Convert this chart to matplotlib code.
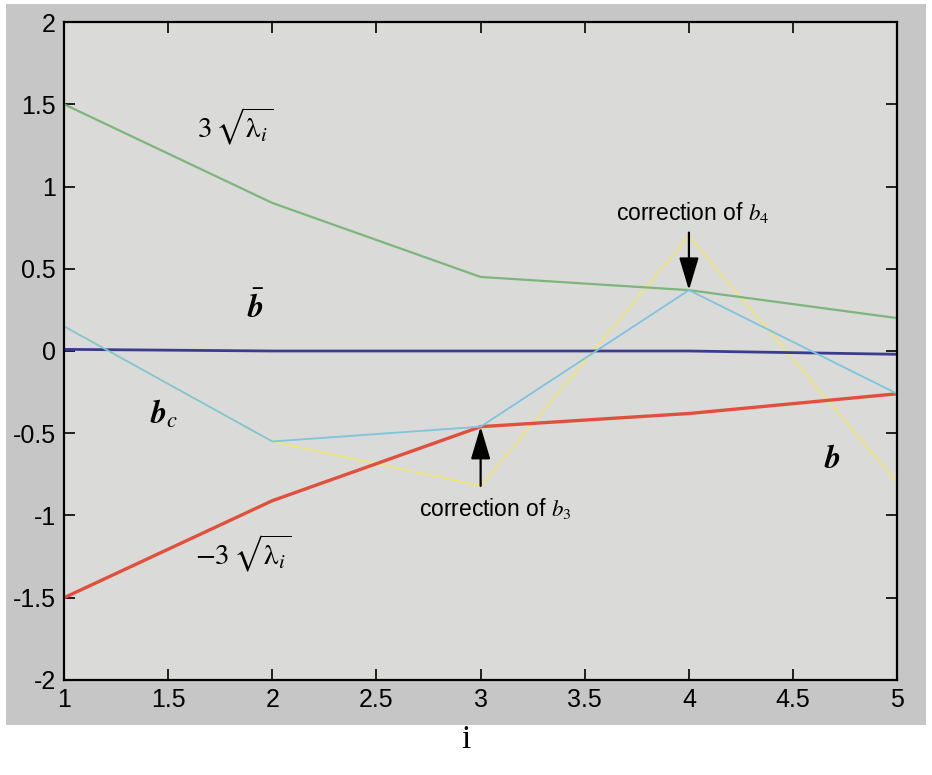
import matplotlib
matplotlib.use("Agg")
import matplotlib.pyplot as plt
from matplotlib.patches import Rectangle

plt.rcParams['mathtext.fontset'] = 'stix'
plt.rcParams['font.family'] = ['Liberation Sans Narrow', 'Liberation Sans', 'DejaVu Sans']

i_vals = [1, 2, 3, 4, 5]
upper = [1.5, 0.9, 0.45, 0.37, 0.2]          # 3*sqrt(lambda_i)
lower = [-1.5, -0.91, -0.46, -0.38, -0.26]   # -3*sqrt(lambda_i)
b_mean = [0.01, 0.0, 0.0, 0.0, -0.02]
b_orig = [0.15, -0.55, -0.82, 0.70, -0.80]
b_corr = [0.15, -0.55, -0.46, 0.37, -0.26]

xticks = [1, 1.5, 2, 2.5, 3, 3.5, 4, 4.5, 5]
yticks = [-2, -1.5, -1, -0.5, 0, 0.5, 1, 1.5, 2]

fig = plt.figure(figsize=(9.32, 7.75), dpi=100, facecolor='white')
# grey panel behind the axes
fig.patches.append(Rectangle((0.006, 0.065), 0.988, 0.93, transform=fig.transFigure,
                             facecolor='#c6c6c6', edgecolor='none', zorder=0))
ax = fig.add_axes([0.0687, 0.1226, 0.894, 0.849])
ax.set_zorder(2)
ax.set_facecolor('#dadad8')

ax.plot(i_vals, b_orig, color='#ede67e', lw=1.3)
ax.plot(i_vals, upper, color='#7db57d', lw=1.6)
ax.plot(i_vals, lower, color='#e0503c', lw=2.4)
ax.plot(i_vals, b_mean, color='#3c3c8e', lw=2.0)
ax.plot(i_vals, b_corr, color='#80c4dc', lw=1.3)

ax.set_xlim(1, 5)
ax.set_ylim(-2, 2)
ax.set_xticks(xticks)
ax.set_yticks(yticks)
ax.set_xticklabels([f'{v:g}' for v in xticks])
ax.set_yticklabels([f'{v:g}' for v in yticks])
ax.tick_params(direction='in', length=8, width=1.2, top=True, right=True,
               labelsize=18, pad=6)
for s in ax.spines.values():
    s.set_linewidth(1.6)

arrow = dict(arrowstyle='-|>,head_length=2.0,head_width=0.6', color='black', lw=1.6,
             shrinkA=0, shrinkB=0)
ax.annotate('', xy=(4, b_corr[3]), xytext=(4, 0.72), arrowprops=arrow)
ax.annotate('', xy=(3, b_corr[2]), xytext=(3, -0.82), arrowprops=arrow)
ax.text(4.02, 0.84, r'correction of $b_4$', fontsize=16.5, ha='center', va='center',
        family='Liberation Sans')
ax.text(3.07, -0.96, r'correction of $b_3$', fontsize=16.5, ha='center', va='center',
        family='Liberation Sans')

ax.text(1.64, 1.37, r'$3\,\sqrt{\mathrm{\lambda}_i}$', fontsize=21, ha='left', va='center')
ax.text(1.63, -1.23, r'$-3\,\sqrt{\mathrm{\lambda}_i}$', fontsize=21, ha='left', va='center')
ax.text(1.92, 0.26, r'$\bar{\boldsymbol{b}}$', fontsize=23, ha='center', va='center')
ax.text(1.48, -0.39, r'$\boldsymbol{b}_c$', fontsize=23, ha='center', va='center')
ax.text(4.69, -0.66, r'$\boldsymbol{b}$', fontsize=23, ha='center', va='center')

fig.text(0.5, 0.045, 'i', fontsize=24, ha='center', va='center', family='Liberation Serif')

fig.savefig('out.png', dpi=100, facecolor='white')
